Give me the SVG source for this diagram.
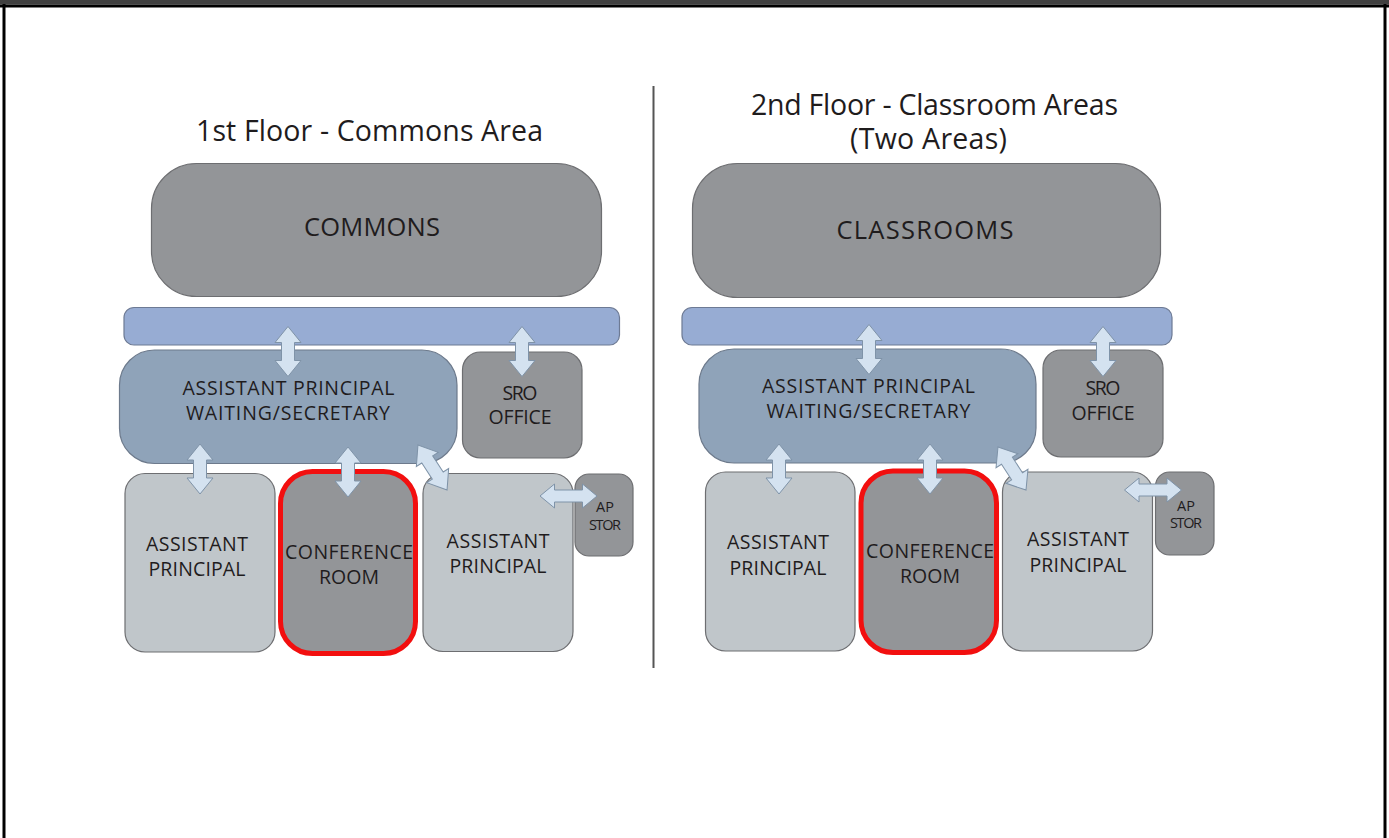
<svg xmlns="http://www.w3.org/2000/svg" xmlns:xlink="http://www.w3.org/1999/xlink" width="1389" height="838" viewBox="0 0 1389 838">
<style>
.t{font-family:"Open Sans","Liberation Sans",sans-serif;fill:#1f1c1d;text-anchor:middle}
.title{font-size:28.5px}
.big{font-size:25.5px}
.lbl{font-size:19.5px}
.sm{font-size:14.5px}
.g{fill:#939598;stroke:#6d6e71;stroke-width:1.2}
.lg{fill:#c0c6ca;stroke:#6d6e71;stroke-width:1.2}
.cor{fill:#97acd3;stroke:#6d7a94;stroke-width:1.2}
.wt{fill:#8fa3b9;stroke:#6d7a8c;stroke-width:1.2}
.conf{fill:#939598;stroke:#f20f0f;stroke-width:5}
.arr{fill:#d4e2f0;stroke:#7f93a8;stroke-width:1}
</style>
<defs>
<path id="va" d="M0,-25 L13,-9 L6.5,-9 L6.5,9 L13,9 L0,25 L-13,9 L-6.5,9 L-6.5,-9 L-13,-9 Z"/>
<path id="ha" d="M-28.5,0 L-14,-12 L-14,-6 L14,-6 L14,-12 L28.5,0 L14,12 L14,6 L-14,6 L-14,12 Z"/>
</defs>
<rect width="1389" height="838" fill="#fff"/>
<g id="frame">
<rect x="0" y="0" width="1389" height="4.5" fill="#404040"/>
<rect x="0" y="4.5" width="1389" height="3" fill="#000"/>
<rect x="2.5" y="4" width="3" height="834" fill="#000"/>
<rect x="1383.5" y="4" width="3" height="834" fill="#000"/>
</g>
<line id="divider" x1="653.5" y1="86" x2="653.5" y2="668" stroke="#555" stroke-width="2"/>
<g id="title1"><text class="t title" x="369.5" y="141" textLength="347" lengthAdjust="spacing">1st Floor - Commons Area</text></g>
<g id="title2"><text class="t title" x="934.5" y="114.5" textLength="367" lengthAdjust="spacing">2nd Floor - Classroom Areas</text><text class="t title" x="928.5" y="148.5" textLength="157" lengthAdjust="spacing">(Two Areas)</text></g>

<g id="commons"><rect class="g" x="151.5" y="163.5" width="450" height="133" rx="45"/><text class="t big" x="372" y="236" textLength="136" lengthAdjust="spacing">COMMONS</text></g>
<g id="corridor1"><rect class="cor" x="124" y="307.5" width="495.5" height="37.5" rx="10"/></g>
<g id="waiting1"><rect class="wt" x="119.5" y="350" width="337.5" height="113.5" rx="35"/><text class="t lbl" x="288.5" y="395" textLength="212" lengthAdjust="spacing">ASSISTANT PRINCIPAL</text><text class="t lbl" x="288" y="420" textLength="204" lengthAdjust="spacing">WAITING/SECRETARY</text></g>
<g id="sro1"><rect class="g" x="462.5" y="352" width="119.5" height="106" rx="18"/><text class="t lbl" x="520" y="400" textLength="35" lengthAdjust="spacing">SRO</text><text class="t lbl" x="520" y="424" textLength="63" lengthAdjust="spacing">OFFICE</text></g>
<g id="ap1a"><rect class="lg" x="125" y="473.5" width="150" height="178.5" rx="20"/><text class="t lbl" x="197" y="551" textLength="102" lengthAdjust="spacing">ASSISTANT</text><text class="t lbl" x="197" y="576" textLength="97" lengthAdjust="spacing">PRINCIPAL</text></g>
<g id="conf1"><rect class="conf" x="280.5" y="471.5" width="135" height="182" rx="32"/><text class="t lbl" x="349" y="559" textLength="128" lengthAdjust="spacing">CONFERENCE</text><text class="t lbl" x="349" y="584" textLength="60" lengthAdjust="spacing">ROOM</text></g>
<g id="ap1b"><rect class="lg" x="423" y="473.5" width="150" height="178" rx="20"/><text class="t lbl" x="498" y="548" textLength="103" lengthAdjust="spacing">ASSISTANT</text><text class="t lbl" x="498" y="573" textLength="97" lengthAdjust="spacing">PRINCIPAL</text></g>
<g id="apstor1"><rect class="g" x="575" y="474" width="58" height="82" rx="14"/><text class="t sm" x="605" y="512">AP</text><text class="t sm" x="605" y="530" textLength="32" lengthAdjust="spacing">STOR</text></g>

<g id="classrooms"><rect class="g" x="692.5" y="163.5" width="468" height="134" rx="45"/><text class="t big" x="925" y="239" textLength="177" lengthAdjust="spacing">CLASSROOMS</text></g>
<g id="corridor2"><rect class="cor" x="682" y="307.5" width="490" height="37.5" rx="10"/></g>
<g id="waiting2"><rect class="wt" x="699" y="349" width="337" height="114" rx="35"/><text class="t lbl" x="868.5" y="393" textLength="213" lengthAdjust="spacing">ASSISTANT PRINCIPAL</text><text class="t lbl" x="868.5" y="418" textLength="204" lengthAdjust="spacing">WAITING/SECRETARY</text></g>
<g id="sro2"><rect class="g" x="1043" y="350" width="120" height="107" rx="18"/><text class="t lbl" x="1103" y="395" textLength="35" lengthAdjust="spacing">SRO</text><text class="t lbl" x="1103" y="420" textLength="63" lengthAdjust="spacing">OFFICE</text></g>
<g id="ap2a"><rect class="lg" x="705.5" y="472" width="149.5" height="179" rx="20"/><text class="t lbl" x="778" y="549" textLength="102" lengthAdjust="spacing">ASSISTANT</text><text class="t lbl" x="778" y="575" textLength="97" lengthAdjust="spacing">PRINCIPAL</text></g>
<g id="conf2"><rect class="conf" x="861" y="471" width="135.5" height="181.5" rx="32"/><text class="t lbl" x="930" y="558" textLength="128" lengthAdjust="spacing">CONFERENCE</text><text class="t lbl" x="930" y="583" textLength="60" lengthAdjust="spacing">ROOM</text></g>
<g id="ap2b"><rect class="lg" x="1002.5" y="472" width="150" height="179" rx="20"/><text class="t lbl" x="1078" y="546" textLength="102" lengthAdjust="spacing">ASSISTANT</text><text class="t lbl" x="1078" y="572" textLength="97" lengthAdjust="spacing">PRINCIPAL</text></g>
<g id="apstor2"><rect class="g" x="1155.5" y="472" width="58.5" height="83" rx="14"/><text class="t sm" x="1186" y="511">AP</text><text class="t sm" x="1186" y="528" textLength="32" lengthAdjust="spacing">STOR</text></g>

<g id="connectors" class="arr">
<use xlink:href="#va" transform="translate(288,351.5)"/>
<use xlink:href="#va" transform="translate(522,351.5)"/>
<use xlink:href="#va" transform="translate(200,469)"/>
<use xlink:href="#va" transform="translate(348,472)"/>
<use xlink:href="#va" transform="translate(432.5,467.5) rotate(-33) scale(1,1.07)"/>
<use xlink:href="#ha" transform="translate(568.5,496)"/>
<use xlink:href="#va" transform="translate(869,349.5)"/>
<use xlink:href="#va" transform="translate(1103,351.5)"/>
<use xlink:href="#va" transform="translate(779,469)"/>
<use xlink:href="#va" transform="translate(930,469)"/>
<use xlink:href="#va" transform="translate(1012,468.5) rotate(-33) scale(1,1.03)"/>
<use xlink:href="#ha" transform="translate(1153,490)"/>
</g>
</svg>
